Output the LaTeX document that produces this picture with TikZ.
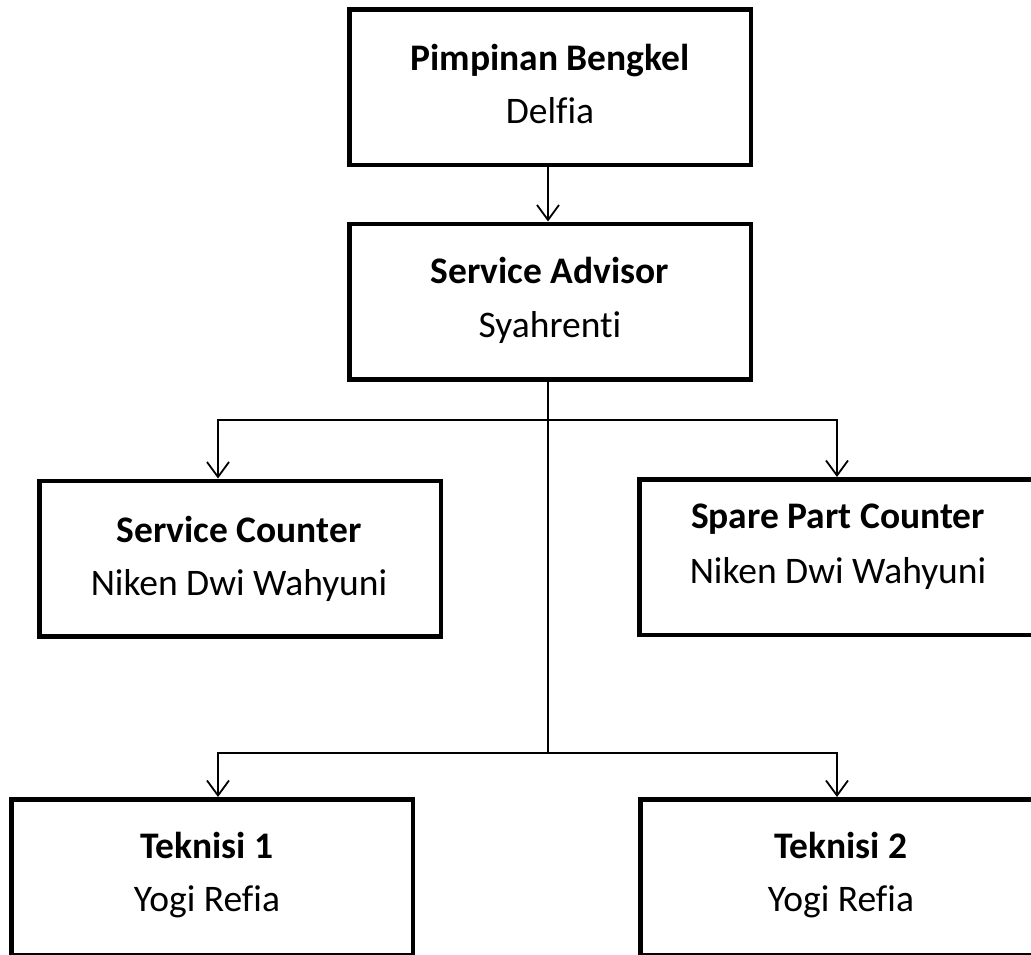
\documentclass[tikz,border=0pt]{standalone}
\usepackage{fontspec}
\setmainfont{Carlito}[Ligatures={NoCommon},RawFeature={-liga;-clig}]
\usetikzlibrary{arrows.meta}
\begin{document}
\begin{tikzpicture}[x=1pt,y=-1pt,
  box/.style={draw,line width=4.5pt,minimum width=401.5pt,minimum height=155.5pt,inner sep=0pt,anchor=center},
  conn/.style={line width=1.8pt},
  arr/.style={conn,-{Straight Barb[length=15pt,width=22pt,line width=1.8pt]}},
  ttltext/.style={font=\fontsize{37.5}{45}\selectfont\bfseries,anchor=base,inner sep=0pt},
  nmtext/.style={font=\fontsize{37.5}{45}\selectfont,anchor=base,inner sep=0pt}]
\useasboundingbox (0,0) rectangle (1031,954);
\clip (0,0) rectangle (1031,954);
% boxes
\node[box] (b1) at (550,87) {};
\node[box] (b2) at (550,301.5) {};
\node[box] (sc) at (240,558.5) {};
\node[box] (sp) at (840,557) {};
\node[box] (t1) at (212,877) {};
\node[box] (t2) at (841,877) {};
% texts
\node[ttltext] (b1t) at (550,70) {Pimpinan Bengkel};
\node[nmtext] (b1n) at (550,123) {Delfia};
\node[ttltext] (b2t) at (550,283) {Service Advisor};
\node[nmtext] (b2n) at (550,337) {Syahrenti};
\node[ttltext] (sct) at (239,542) {Service Counter};
\node[nmtext] (scn) at (239,595) {Niken Dwi Wahyuni};
\node[ttltext] (spt) at (838,528) {Spare Part Counter};
\node[nmtext] (spn) at (838,583) {Niken Dwi Wahyuni};
\node[ttltext] (t1t) at (207,858) {Teknisi 1};
\node[nmtext] (t1n) at (207,911) {Yogi Refia};
\node[ttltext] (t2t) at (841,858) {Teknisi 2};
\node[nmtext] (t2n) at (841,911) {Yogi Refia};
% connectors
\coordinate (j1) at (548,420);
\coordinate (l1) at (218,420);
\coordinate (r1) at (837,420);
\coordinate (j2) at (548,753);
\coordinate (l2) at (218,753);
\coordinate (r2) at (837,753);
\draw[arr] (b1.south -| j1) -- (b2.north -| j1);
\draw[conn] (b2.south -| j1) -- (j2);
\draw[arr] (j1) -- (l1) -- (l1 |- sc.north);
\draw[arr] (j1) -- (r1) -- (r1 |- sp.north);
\draw[arr] (j2) -- (l2) -- (l2 |- t1.north);
\draw[arr] (j2) -- (r2) -- (r2 |- t2.north);
\end{tikzpicture}
\end{document}
